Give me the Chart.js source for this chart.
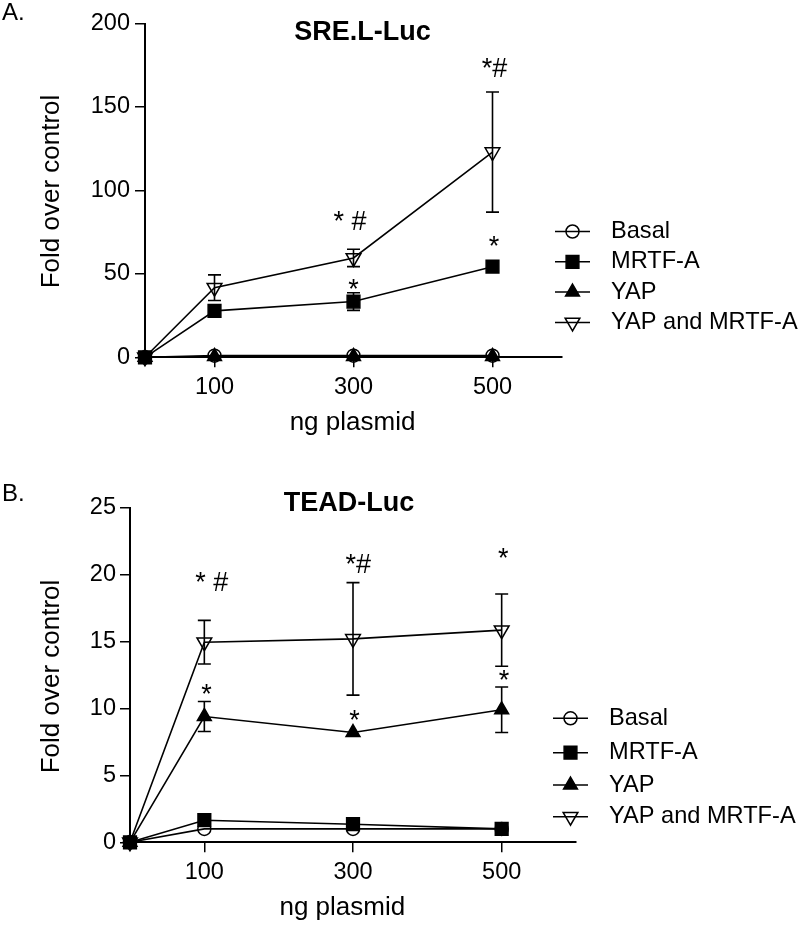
<!DOCTYPE html>
<html><head><meta charset="utf-8">
<script src="https://cdn.jsdelivr.net/npm/chart.js@4.4.1/dist/chart.umd.min.js"></script>
<style>
html,body{margin:0;padding:0;background:#fff;}
#wrap{position:relative;width:800px;height:927px;background:#fff;}
canvas{position:absolute;left:0;}
</style></head><body>
<div id="wrap">
<canvas id="c1" width="800" height="463" style="top:0px"></canvas>
<canvas id="c2" width="800" height="464" style="top:463px"></canvas>
</div>
<script>
// ---------- data ----------
const doses = [0, 100, 300, 500];
const xTickLabels = [100, 300, 500];
const seriesNames = ['Basal', 'MRTF-A', 'YAP', 'YAP and MRTF-A'];

// A. SRE.L-Luc
const sreTitle = 'SRE.L-Luc';
const sreYTicks = [0, 50, 100, 150, 200];
const sreBasal = [0, 1, 1, 1];
const sreBasalErr = [0, 0, 0, 0];
const sreMrtf = [0, 27.8, 33.4, 54.3];
const sreMrtfErr = [0, 0, 5.3, 0];
const sreYap = [0, 0.5, 0.5, 0.5];
const sreYapErr = [0, 0, 0, 0];
const sreBoth = [0, 41.7, 59.5, 123];
const sreBothErr = [0, 7.7, 5.2, 36];
const sreMarkText = ['*#', '* #', '*', '*'];
const sreMarkX = [503, 295, 300, 502];
const sreMarkY = [172.5, 80.8, 40.1, 65.9];

// B. TEAD-Luc
const teadTitle = 'TEAD-Luc';
const teadYTicks = [0, 5, 10, 15, 20, 25];
const teadBasal = [0, 1, 1, 1];
const teadBasalErr = [0, 0, 0, 0];
const teadMrtf = [0, 1.65, 1.35, 1.0];
const teadMrtfErr = [0, 0, 0, 0];
const teadYap = [0, 9.4, 8.2, 9.9];
const teadYapErr = [0, 1.12, 0, 1.7];
const teadBoth = [0, 14.95, 15.2, 15.85];
const teadBothErr = [0, 1.63, 4.2, 2.7];
const teadMarkText = ['* #', '*#', '*', '*', '*', '*'];
const teadMarkX = [110, 307, 502, 103, 302, 503];
const teadMarkY = [19.3, 20.7, 21.1, 11.0, 9.0, 12.0];

// ---------- drawing helpers ----------
const FONT = '"Liberation Sans", Arial, Helvetica, sans-serif';
const markerStyles = [
  {style: 'circle', r: 6.5, filled: false, rot: 0},
  {style: 'rect', r: 9, filled: true, rot: 0},
  {style: 'triangle', r: 8, filled: true, rot: 0},
  {style: 'triangle', r: 8.5, filled: false, rot: 180}
];

function drawMarker(ctx, m, x, y) {
  ctx.save();
  ctx.beginPath();
  if (m.style === 'circle') {
    ctx.arc(x, y, m.r, 0, Math.PI * 2);
  } else if (m.style === 'rect') {
    const s = m.r * Math.SQRT1_2;
    ctx.rect(x - s, y - s, 2 * s, 2 * s);
  } else {
    let a = m.rot * Math.PI / 180;
    for (let i = 0; i < 3; i++) {
      const px = x + Math.sin(a) * m.r, py = y - Math.cos(a) * m.r;
      if (i) ctx.lineTo(px, py); else ctx.moveTo(px, py);
      a += 2 * Math.PI / 3;
    }
    ctx.closePath();
  }
  if (m.filled) { ctx.fillStyle = '#000'; ctx.fill(); }
  ctx.lineWidth = 1.5;
  ctx.strokeStyle = '#000';
  ctx.stroke();
  ctx.restore();
}

function makeChart(id, cfg) {
  const series = cfg.series;
  const datasets = series.map((vals, i) => ({
    label: seriesNames[i],
    data: doses.map((d, j) => ({x: d, y: vals[j]})),
    errs: cfg.errs[i],
    borderColor: '#000',
    borderWidth: 1.6,
    tension: 0,
    fill: false,
    clip: false,
    pointStyle: markerStyles[i].style,
    pointRadius: markerStyles[i].r,
    pointRotation: markerStyles[i].rot,
    pointBackgroundColor: markerStyles[i].filled ? '#000' : 'rgba(0,0,0,0)',
    pointBorderColor: '#000',
    pointBorderWidth: 1.5,
    order: [3, 0, 1, 2][i]
  }));

  const extras = {
    id: 'extras_' + id,
    afterDatasetsDraw(chart) {
      const ctx = chart.ctx, xs = chart.scales.x, ys = chart.scales.y;
      ctx.save();
      ctx.strokeStyle = '#000';
      ctx.lineWidth = 1.6;
      chart.data.datasets.forEach(ds => {
        ds.data.forEach((p, j) => {
          const e = ds.errs[j];
          if (!e) return;
          const px = xs.getPixelForValue(p.x);
          const t = ys.getPixelForValue(p.y + e);
          const b = ys.getPixelForValue(p.y - e);
          ctx.beginPath();
          ctx.moveTo(px, t); ctx.lineTo(px, b);
          ctx.moveTo(px - 6.5, t); ctx.lineTo(px + 6.5, t);
          ctx.moveTo(px - 6.5, b); ctx.lineTo(px + 6.5, b);
          ctx.stroke();
        });
      });
      // significance marks
      ctx.fillStyle = '#000';
      ctx.font = '27px ' + FONT;
      ctx.textAlign = 'center';
      ctx.textBaseline = 'middle';
      cfg.markText.forEach((t, k) => {
        ctx.fillText(t, xs.getPixelForValue(cfg.markX[k]), ys.getPixelForValue(cfg.markY[k]));
      });
      ctx.restore();
    },
    afterDraw(chart) {
      const ctx = chart.ctx;
      ctx.save();
      ctx.fillStyle = '#000';
      // panel label
      ctx.font = '24px ' + FONT;
      ctx.textAlign = 'left';
      ctx.textBaseline = 'alphabetic';
      ctx.fillText(cfg.panel, 2, cfg.panelY);
      // title
      ctx.font = 'bold 27px ' + FONT;
      ctx.textAlign = 'center';
      ctx.textBaseline = 'middle';
      ctx.fillText(cfg.title, cfg.titleX, cfg.titleY);
      // axis titles
      ctx.font = '26px ' + FONT;
      ctx.fillText('ng plasmid', cfg.xTitleX, cfg.xTitleY);
      ctx.save();
      ctx.translate(52.3, cfg.yTitleY);
      ctx.rotate(-Math.PI / 2);
      ctx.fillText('Fold over control', 0, 0);
      ctx.restore();
      // legend
      ctx.font = '23.6px ' + FONT;
      ctx.textAlign = 'left';
      ctx.textBaseline = 'middle';
      seriesNames.forEach((name, i) => {
        const y = cfg.legendY[i];
        ctx.beginPath();
        ctx.strokeStyle = '#000';
        ctx.lineWidth = 1.5;
        ctx.moveTo(cfg.legendX0, y); ctx.lineTo(cfg.legendX0 + 35, y);
        ctx.stroke();
        drawMarker(ctx, markerStyles[i], cfg.legendX0 + 17.5, y);
        ctx.fillText(name, cfg.legendX0 + 56, y);
      });
      ctx.restore();
    }
  };

  return new Chart(document.getElementById(id), {
    type: 'line',
    data: {datasets},
    options: {
      responsive: false,
      animation: false,
      devicePixelRatio: 1,
      events: [],
      layout: {padding: {top: cfg.padTop, right: cfg.padRight, left: 0, bottom: 0}},
      plugins: {legend: {display: false}, tooltip: {enabled: false}, title: {display: false}},
      scales: {
        x: {
          type: 'linear', min: 0, max: 600,
          afterBuildTicks: s => { s.ticks = xTickLabels.map(v => ({value: v})); },
          afterFit: s => { s.height = cfg.xHeight; },
          ticks: {color: '#000', font: {family: FONT, size: 23.5}, padding: 6, maxRotation: 0, autoSkip: false,
                  callback: v => String(v)},
          grid: {drawOnChartArea: false, drawTicks: true, tickLength: 10, color: '#000', lineWidth: 1.5},
          border: {display: true, color: '#000', width: 2}
        },
        y: {
          type: 'linear', min: 0, max: cfg.yTicks[cfg.yTicks.length - 1],
          afterBuildTicks: s => { s.ticks = cfg.yTicks.map(v => ({value: v})); },
          afterFit: s => { s.width = cfg.yWidth; },
          ticks: {color: '#000', font: {family: FONT, size: 23.5}, padding: cfg.yPad, callback: v => String(v)},
          grid: {drawOnChartArea: false, drawTicks: true, tickLength: 10, color: '#000', lineWidth: 1.5},
          border: {display: true, color: '#000', width: 2}
        }
      }
    },
    plugins: [extras]
  });
}

makeChart('c1', {
  series: [sreBasal, sreMrtf, sreYap, sreBoth],
  errs: [sreBasalErr, sreMrtfErr, sreYapErr, sreBothErr],
  yTicks: sreYTicks,
  markText: sreMarkText, markX: sreMarkX, markY: sreMarkY,
  padTop: 23.5, padRight: 238, xHeight: 105.7, yWidth: 145, yPad: 5,
  panel: 'A.', panelY: 20,
  title: sreTitle, titleX: 362.5, titleY: 32.3,
  xTitleX: 352.5, xTitleY: 423.3, yTitleY: 191.5,
  legendX0: 555, legendY: [231.5, 261.8, 292.1, 322.4]
});

makeChart('c2', {
  series: [teadBasal, teadMrtf, teadYap, teadBoth],
  errs: [teadBasalErr, teadMrtfErr, teadYapErr, teadBothErr],
  yTicks: teadYTicks,
  markText: teadMarkText, markX: teadMarkX, markY: teadMarkY,
  padTop: 44.7, padRight: 224, xHeight: 84.7, yWidth: 130, yPad: 4,
  panel: 'B.', panelY: 38,
  title: teadTitle, titleX: 349, titleY: 40.9,
  xTitleX: 342.3, xTitleY: 445.1, yTitleY: 213.5,
  legendX0: 553, legendY: [255.3, 289.7, 322, 353.7]
});
</script>
</body></html>
